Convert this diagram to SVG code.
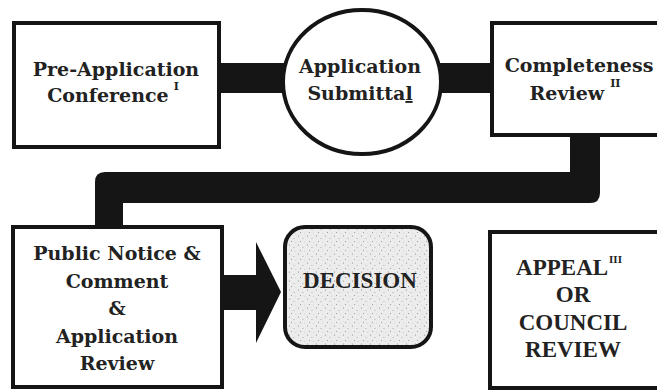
<svg xmlns="http://www.w3.org/2000/svg" width="657" height="390" viewBox="0 0 657 390">
  <style>
    .box { fill: #ffffff; stroke: #151515; stroke-width: 4; }
    .lbl { font-family: "DejaVu Serif", "Liberation Serif", serif; font-weight: bold; font-size: 19px; fill: #222222; text-anchor: middle; }
    .cap { font-family: "Liberation Serif", "DejaVu Serif", serif; font-size: 23px; }
    .sup { font-size: 11px; }
    .bar { fill: #151515; }
  </style>
  <defs>
    <pattern id="stipple" width="9" height="9" patternUnits="userSpaceOnUse">
      <rect width="9" height="9" fill="#ececec"/>
      <circle cx="1.5" cy="2" r="0.6" fill="#8a8a8a"/>
      <circle cx="6" cy="4.5" r="0.5" fill="#9a9a9a"/>
      <circle cx="3.5" cy="7.5" r="0.55" fill="#909090"/>
      <circle cx="7.8" cy="8.2" r="0.4" fill="#a5a5a5"/>
    </pattern>
  </defs>
  <rect width="657" height="390" fill="#ffffff"/>

  <!-- connectors -->
  <g id="connectors">
    <rect class="bar" x="217" y="63" width="68" height="30"/>
    <rect class="bar" x="440" y="63" width="54" height="30"/>
    <path class="bar" d="M570 133 L600 133 L600 193 Q600 203 590 203 L123 203 L123 229 L95 229 L95 182 Q95 172 105 172 L570 172 Z"/>
    <polygon class="bar" points="220,275 256,275 256,242 281,292 256,343 256,310 220,310"/>
  </g>

  <g id="pre-application">
    <rect class="box" x="14" y="23" width="205" height="124"/>
    <text class="lbl" x="116" y="76">Pre-Application</text>
    <text class="lbl" x="113" y="102">Conference<tspan class="sup" dx="5" dy="-12">I</tspan></text>
  </g>

  <g id="application-submittal">
    <ellipse class="box" cx="362" cy="82" rx="79" ry="72" stroke-width="3.5"/>
    <text class="lbl" x="360" y="73">Application</text>
    <text class="lbl" x="360" y="100">Submitta<tspan text-decoration="underline">l</tspan></text>
  </g>

  <g id="completeness-review">
    <rect class="box" x="492" y="23" width="180" height="112"/>
    <text class="lbl" x="579" y="72">Completeness</text>
    <text class="lbl" x="575" y="100">Review<tspan class="sup" dx="6" dy="-13">II</tspan></text>
  </g>

  <g id="public-notice">
    <rect class="box" x="13" y="227" width="209" height="160"/>
    <text class="lbl" x="117" y="260">Public Notice &amp;</text>
    <text class="lbl" x="117" y="288">Comment</text>
    <text class="lbl" x="117" y="315">&amp;</text>
    <text class="lbl" x="117" y="343">Application</text>
    <text class="lbl" x="117" y="370">Review</text>
  </g>

  <g id="decision">
    <rect x="285" y="227" width="146" height="120" rx="20" ry="20" fill="url(#stipple)" stroke="#151515" stroke-width="4"/>
    <text class="lbl cap" x="360" y="288">DECISION</text>
  </g>

  <g id="appeal">
    <rect class="box" x="490" y="232" width="170" height="156"/>
    <text class="lbl cap" x="569" y="275">APPEAL<tspan class="sup" dx="1" dy="-12">III</tspan></text>
    <text class="lbl cap" x="573" y="302">OR</text>
    <text class="lbl cap" x="573" y="330">COUNCIL</text>
    <text class="lbl cap" x="573" y="357">REVIEW</text>
  </g>
</svg>
